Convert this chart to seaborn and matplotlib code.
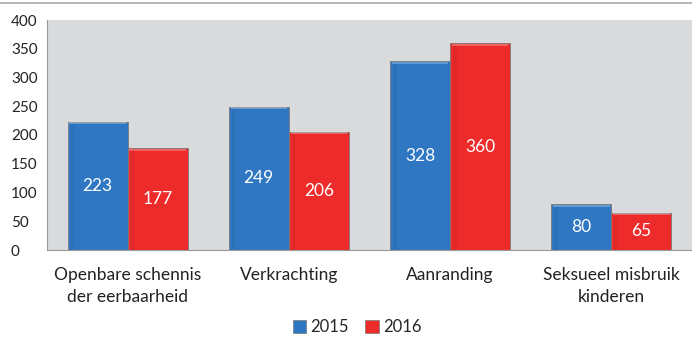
import matplotlib
matplotlib.use("Agg")
import matplotlib.pyplot as plt
import matplotlib.patches as mpatches
from matplotlib.lines import Line2D
import seaborn as sns
import pandas as pd

categories = ["Openbare schennis\nder eerbaarheid", "Verkrachting", "Aanranding",
              "Seksueel misbruik\nkinderen"]
years = ["2015", "2016"]
values_2015 = [223, 249, 328, 80]
values_2016 = [177, 206, 360, 65]
y_ticks = [0, 50, 100, 150, 200, 250, 300, 350, 400]

colors = {"2015": "#2f77c3", "2016": "#ee2b2b"}

df = pd.DataFrame({
    "categorie": categories * 2,
    "jaar": ["2015"] * len(categories) + ["2016"] * len(categories),
    "aantal": values_2015 + values_2016,
})

sns.set_theme(style="white")
plt.rcParams["font.family"] = ["Lato", "DejaVu Sans"]

fig = plt.figure(figsize=(6.92, 3.42), dpi=100)
ax = fig.add_axes([47 / 692, 1 - 250 / 342, 645 / 692, 230 / 342])
ax.set_facecolor("#d9dadc")

sns.barplot(data=df, x="categorie", y="aantal", hue="jaar", palette=colors,
            width=0.745, gap=0, saturation=1, ax=ax, legend=False,
            edgecolor="#7a7a7a", linewidth=0.6)

ax.set_ylim(0, 400)
ax.set_xlim(-0.5, 3.5)
ax.set_yticks(y_ticks)
ax.set_yticklabels([str(t) for t in y_ticks], fontsize=11, color="#222222")
ax.tick_params(axis="y", length=0, pad=26)
for lbl in ax.get_yticklabels():
    lbl.set_horizontalalignment("left")

ax.set_xticks(range(len(categories)))
ax.set_xticklabels(categories, fontsize=12.5, color="#222222", linespacing=1.45)
ax.tick_params(axis="x", length=0, pad=12)
ax.set_xlabel("")
ax.set_ylabel("")

for side in ["top", "right"]:
    ax.spines[side].set_visible(False)
ax.spines["left"].set_color("#9a9a9a")
ax.spines["bottom"].set_color("#9a9a9a")
ax.spines["left"].set_linewidth(0.8)
ax.spines["bottom"].set_linewidth(0.8)

# bevel highlights and value labels inside each bar
for cont in ax.containers:
    for bar, val in zip(cont, cont.datavalues):
        x0, w, h = bar.get_x(), bar.get_width(), bar.get_height()
        ax.add_patch(mpatches.Rectangle((x0 + w * 0.03, h - 4.5), w * 0.94, 3.5,
                                        facecolor="white", alpha=0.25,
                                        linewidth=0, zorder=bar.get_zorder() + 0.1))
        ax.add_patch(mpatches.Rectangle((x0 + w * 0.05, 0), w * 0.06, h - 5,
                                        facecolor="black", alpha=0.06,
                                        linewidth=0, zorder=bar.get_zorder() + 0.1))
        ax.text(x0 + w / 2, h / 2, f"{int(val)}", ha="center", va="center",
                color="white", fontsize=12.5, zorder=bar.get_zorder() + 1)

handles = [mpatches.Patch(facecolor=colors[y], edgecolor="#7a7a7a", linewidth=0.5, label=y)
           for y in years]
fig.legend(handles=handles, loc="center", bbox_to_anchor=(357 / 692, 1 - 327 / 342),
           ncol=2, frameon=False, fontsize=12, handlelength=0.8, handleheight=0.8,
           handletextpad=0.25, columnspacing=1.0)

fig.add_artist(Line2D([0, 1], [1 - 3 / 342, 1 - 3 / 342], color="#a8a8a8", linewidth=1.2))

fig.savefig("out.png", dpi=100)
